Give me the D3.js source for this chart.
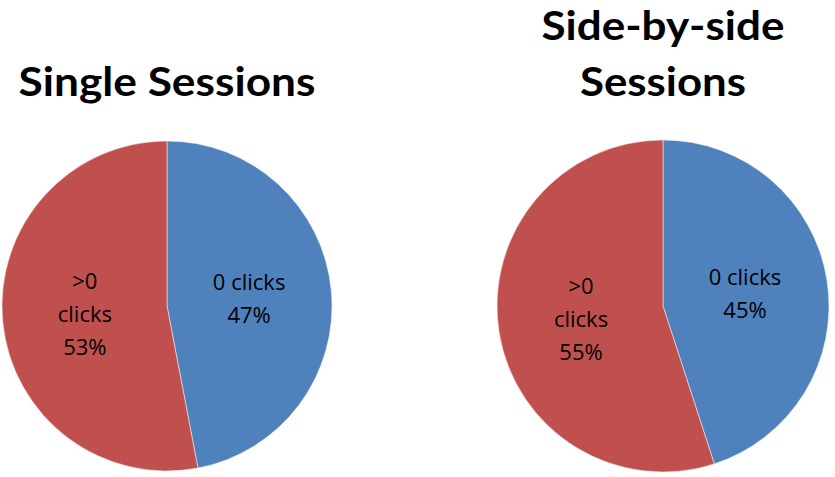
<!DOCTYPE html>
<html>
<head>
<meta charset="utf-8">
<script src="https://cdn.jsdelivr.net/npm/d3@7/dist/d3.min.js"></script>
<style>
  body { margin: 0; background: #fff; }
  svg { display: block; }
</style>
</head>
<body>
<div id="chart"></div>
<script>
// data
var categories = ["0 clicks", ">0 clicks"];
var singleValues = [47, 53];
var sideValues = [45, 55];
var colors = ["#4F81BD", "#C0504D"];

var width = 835, height = 477;

var svg = d3.select("#chart").append("svg")
    .attr("width", width)
    .attr("height", height);

var charts = [
  { title: ["Single Sessions"], values: singleValues, cx: 167, cy: 306, r: 165,
    titleY: [96], titleW: [297],
    labelLines: [["0 clicks", "47%"], [">0", "clicks", "53%"]] },
  { title: ["Side-by-side", "Sessions"], values: sideValues, cx: 663, cy: 306, r: 166,
    titleY: [40, 96], titleW: [243, 166],
    labelLines: [["0 clicks", "45%"], [">0", "clicks", "55%"]] }
];

var pie = d3.pie().sort(null).value(function(d) { return d; });

charts.forEach(function(c) {
  var g = svg.append("g")
      .attr("transform", "translate(" + c.cx + "," + c.cy + ")");

  var arc = d3.arc().innerRadius(0).outerRadius(c.r);
  var labelArc = d3.arc().innerRadius(c.r * 0.5).outerRadius(c.r * 0.5);

  var arcs = pie(c.values);

  g.selectAll("path.slice")
    .data(arcs)
    .enter().append("path")
    .attr("class", "slice")
    .attr("d", arc)
    .style("fill", function(d, i) { return colors[i]; })
    .style("stroke", "#ffffff")
    .style("stroke-width", 0.8)
    .style("stroke-opacity", 0.6);

  var lineH = 33;
  g.selectAll("text.lbl")
    .data(arcs)
    .enter().append("text")
    .attr("class", "lbl")
    .attr("text-anchor", "middle")
    .style("font-family", "'Open Sans', 'Noto Sans', sans-serif")
    .style("font-size", "22px")
    .style("fill", "#000")
    .each(function(d, i) {
      var pos = labelArc.centroid(d);
      var lines = c.labelLines[i];
      var top = pos[1] - (lines.length - 1) * lineH / 2 + 8;
      var t = d3.select(this);
      lines.forEach(function(s, k) {
        t.append("tspan")
          .attr("x", pos[0])
          .attr("y", top + k * lineH)
          .text(s);
      });
    });

  c.title.forEach(function(s, k) {
    svg.append("text")
      .attr("x", c.cx)
      .attr("y", c.titleY[k])
      .attr("text-anchor", "middle")
      .attr("textLength", c.titleW[k])
      .attr("lengthAdjust", "spacingAndGlyphs")
      .style("font-family", "Lato, 'Open Sans', sans-serif")
      .style("font-weight", "bold")
      .style("font-size", "40px")
      .style("fill", "#000")
      .text(s);
  });
});
</script>
</body>
</html>
